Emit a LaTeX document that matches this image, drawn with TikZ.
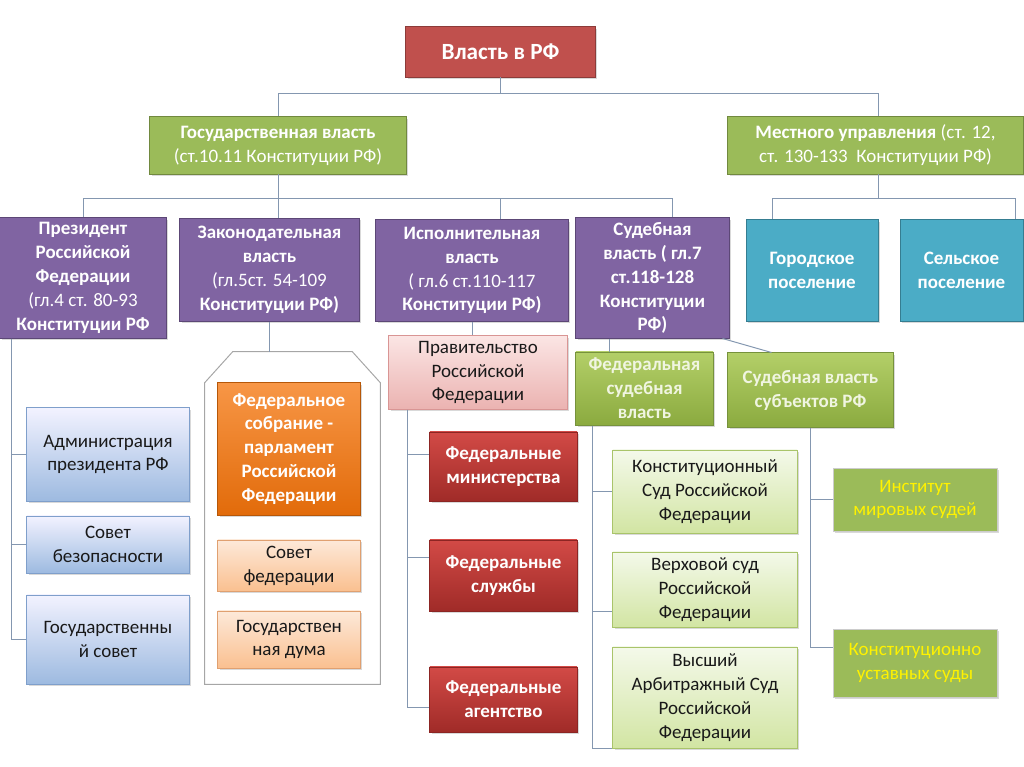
\documentclass[tikz,border=0pt]{standalone}
\usepackage{fontspec}
\setmainfont{Carlito}
\usetikzlibrary{shadows}
\definecolor{rootred}{HTML}{C0504D}
\definecolor{rootredd}{HTML}{8C3B39}
\definecolor{headgreen}{HTML}{9BBB59}
\definecolor{headgreend}{HTML}{71893F}
\definecolor{purp}{HTML}{8064A2}
\definecolor{purpd}{HTML}{5C4776}
\definecolor{teal}{HTML}{4BACC6}
\definecolor{teald}{HTML}{357D91}
\definecolor{linec}{HTML}{8497B0}
\definecolor{framec}{HTML}{A6A6A6}
\tikzstyle{box} = [rectangle, draw, text centered, align=center, line width=0.7pt, inner sep=1pt, font=\fontsize{13.5}{17}\selectfont, drop shadow={opacity=0.3, shadow xshift=1.2pt, shadow yshift=-1.2pt}]
\tikzstyle{rootbox} = [box, fill=rootred, draw=rootredd, text=white, font=\fontsize{16.5}{19}\selectfont\bfseries]
\tikzstyle{headbox} = [box, fill=headgreen, draw=headgreend, text=white, font=\fontsize{13.5}{17}\selectfont\bfseries]
\tikzstyle{branchbox} = [box, fill=purp, draw=purpd, text=white, font=\fontsize{13.5}{17}\selectfont\bfseries]
\tikzstyle{settlebox} = [box, fill=teal, draw=teald, text=white, font=\fontsize{13.5}{17}\selectfont\bfseries]
\tikzstyle{bluebox} = [box, top color=blue!5!white, bottom color={rgb,255:red,157;green,186;blue,224}, draw={rgb,255:red,127;green,159;blue,203}, text=black!90]
\tikzstyle{orangebox} = [box, top color={rgb,255:red,247;green,150;blue,70}, bottom color={rgb,255:red,226;green,107;blue,10}, draw={rgb,255:red,182;green,87;blue,8}, text=white, font=\fontsize{13.5}{17}\selectfont\bfseries]
\tikzstyle{peachbox} = [box, top color={rgb,255:red,253;green,233;blue,217}, bottom color={rgb,255:red,250;green,192;blue,144}, draw={rgb,255:red,224;green,160;blue,112}, text=black!90]
\tikzstyle{pinkbox} = [box, top color={rgb,255:red,251;green,229;blue,228}, bottom color={rgb,255:red,235;green,179;blue,177}, draw={rgb,255:red,217;green,149;blue,148}, text=black!90]
\tikzstyle{redbox} = [box, top color={rgb,255:red,210;green,74;blue,70}, bottom color={rgb,255:red,160;green,43;blue,40}, draw={rgb,255:red,140;green,37;blue,35}, text=white, font=\fontsize{13.5}{17}\selectfont\bfseries]
\tikzstyle{courtbox} = [box, top color={rgb,255:red,179;green,207;blue,104}, bottom color={rgb,255:red,139;green,170;blue,63}, draw={rgb,255:red,118;green,146;blue,60}, text={rgb,255:red,240;green,245;blue,225}, font=\fontsize{13.5}{17}\selectfont\bfseries]
\tikzstyle{mintbox} = [box, top color={rgb,255:red,244;green,249;blue,234}, bottom color={rgb,255:red,210;green,229;blue,163}, draw={rgb,255:red,169;green,196;blue,106}, text=black!90]
\tikzstyle{yellowbox} = [box, fill=headgreen, draw=white!80!black, text=yellow]
\tikzstyle{frame} = [rectangle, inner sep=0pt]
\tikzstyle{frameline} = [draw=framec, line width=0.7pt]
\tikzstyle{connector} = [line width=0.7pt, draw=linec]

\begin{document}
\begin{tikzpicture}[x=0.025cm,y=-0.025cm]
    \useasboundingbox (0,0) rectangle (1024,767);
        % top levels
        \node (root) [rootbox, minimum width=4.725cm, minimum height=1.25cm] at (500.5,52) {Власть в РФ};
        \node (gov) [headbox, minimum width=6.4cm, minimum height=1.425cm] at (278,145.5) {Государственная власть\\{\mdseries (ст.10.11 Конституции РФ)}};
        \node (local) [headbox, minimum width=7.375cm, minimum height=1.425cm] at (875.5,145.5) {Местного управления {\mdseries (ст. 12,}\\{\mdseries ст. 130-133\ \ Конституции РФ)}};
        \node (pres) [branchbox, minimum width=4.15cm, minimum height=3cm] at (83,278) {Президент\\Российской\\Федерации\\{\mdseries (гл.4 ст. 80-93}\\Конституции РФ};
        \node (legis) [branchbox, minimum width=4.475cm, minimum height=2.575cm] at (269.5,270) {Законодательная\\власть\\{\mdseries (гл.5ст. 54-109}\\Конституции РФ)};
        \node (exec) [branchbox, minimum width=4.8cm, minimum height=2.525cm] at (472,270.5) {Исполнительная\\власть\\{\mdseries ( гл.6 ст.110-117}\\Конституции РФ)};
        \node (jud) [branchbox, minimum width=3.825cm, minimum height=3cm] at (652.5,278) {Судебная\\власть ( гл.7\\ст.118-128\\Конституции\\РФ)};
        \node (city) [settlebox, minimum width=3.3cm, minimum height=2.525cm] at (812,270.5) {Городское\\поселение};
        \node (rural) [settlebox, minimum width=3.075cm, minimum height=2.525cm] at (961.5,270.5) {Сельское\\поселение};
        % president
        \node (adm) [bluebox, minimum width=4.05cm, minimum height=2.325cm] at (108,454.5) {Администрация\\президента РФ};
        \node (secc) [bluebox, minimum width=4.05cm, minimum height=1.425cm] at (108,544.5) {Совет\\безопасности};
        \node (stc) [bluebox, minimum width=4.05cm, minimum height=2.225cm] at (108,639.5) {Государственны\\й совет};
        % parliament
        \node (parl) [frame, minimum width=4.375cm, minimum height=8.3cm] at (292.5,518) {};
        \draw [frameline] ([yshift=-0.775cm]parl.north west) -- ([xshift=0.7cm]parl.north west) -- ([xshift=-0.7cm]parl.north east) -- ([yshift=-0.775cm]parl.north east) -- (parl.south east) -- (parl.south west) -- cycle;
        \node (fedas) [orangebox, minimum width=3.55cm, minimum height=3.3cm] at (289,449) {Федеральное\\собрание -\\парламент\\Российской\\Федерации};
        \node (sovfed) [peachbox, minimum width=3.55cm, minimum height=1.275cm] at (289,565.5) {Совет\\федерации};
        \node (duma) [peachbox, minimum width=3.55cm, minimum height=1.425cm] at (289,639.5) {Государствен\\ная дума};
        % government
        \node (prav) [pinkbox, minimum width=4.45cm, minimum height=1.825cm] at (478,372.5) {Правительство\\Российской\\Федерации};
        \node (mins) [redbox, minimum width=3.675cm, minimum height=1.725cm] at (503.5,466.5) {Федеральные\\министерства};
        \node (serv) [redbox, minimum width=3.675cm, minimum height=1.775cm] at (503.5,575.5) {Федеральные\\службы};
        \node (agen) [redbox, minimum width=3.675cm, minimum height=1.625cm] at (503.5,699.5) {Федеральные\\агентство};
        % courts
        \node (fjud) [courtbox, minimum width=3.425cm, minimum height=1.825cm] at (644.5,388.5) {Федеральная\\судебная\\власть};
        \node (sjud) [courtbox, minimum width=4.125cm, minimum height=1.85cm] at (810.5,390) {Судебная власть\\субъектов РФ};
        \node (ks) [mintbox, minimum width=4.6cm, minimum height=2.075cm] at (705,491.5) {Конституционный\\Суд Российской\\Федерации};
        \node (vs) [mintbox, minimum width=4.6cm, minimum height=1.875cm] at (705,589.5) {Верховой суд\\Российской\\Федерации};
        \node (vas) [mintbox, minimum width=4.6cm, minimum height=2.525cm] at (705,697.5) {Высший\\Арбитражный Суд\\Российской\\Федерации};
        \node (mir) [yellowbox, minimum width=4.1cm, minimum height=1.575cm] at (915,499.5) {Институт\\мировых судей};
        \node (kus) [yellowbox, minimum width=4.1cm, minimum height=1.7cm] at (915,663) {Конституционно\\уставных суды};
        % connectors
        \coordinate (topbus) at (500.5,93);
        \coordinate (govbus) at (278,198);
        \coordinate (localbus) at (878,198);
        \coordinate (presfoot) at ([xshift=0.3cm]pres.south west);
        \coordinate (pravfoot) at ([xshift=0.475cm]prav.south west);
        \coordinate (judfoot) at ([xshift=0.85cm]jud.south west);
        \coordinate (fjudfoot) at ([xshift=0.425cm]fjud.south west);
        \draw [connector] (root) -- (topbus) -| (gov.north);
        \draw [connector] (topbus) -| (localbus |- local.north);
        \draw [connector] (gov) -- (govbus) -| (pres.north);
        \draw [connector] (govbus) -- (govbus |- legis.north);
        \draw [connector] (govbus) -| ([xshift=0.7cm]exec.north);
        \draw [connector] (govbus) -| ([xshift=0.5cm]jud.north);
        \draw [connector] (localbus |- local.south) -- (localbus) -| ([xshift=-1cm]city.north);
        \draw [connector] (localbus) -| ([xshift=1.34cm]rural.north);
        \draw [connector] (presfoot) |- (adm.west);
        \draw [connector] (presfoot) |- (secc.west);
        \draw [connector] (presfoot) |- (stc.west);
        \draw [connector] (legis.south) -- (legis.south |- parl.north);
        \draw [connector] (exec.south) -- (exec.south |- prav.north);
        \draw [connector] (pravfoot) |- ([yshift=0.31cm]mins.west);
        \draw [connector] (pravfoot) |- ([yshift=0.44cm]serv.west);
        \draw [connector] (pravfoot) |- ([yshift=-0.19cm]agen.west);
        \draw [connector] (judfoot) -- (judfoot |- fjud.north);
        \draw [connector] ([xshift=-0.175cm]jud.south east) -- ([xshift=1.1cm]sjud.north west);
        \draw [connector] (fjudfoot) |- (ks.west);
        \draw [connector] (fjudfoot) |- ([yshift=-0.54cm]vs.west);
        \draw [connector] (fjudfoot) |- (vas.south west);
        \draw [connector] (sjud.south) |- (mir.west);
        \draw [connector] (sjud.south) |- ([yshift=0.4cm]kus.west);
    \end{tikzpicture}
\end{document}
